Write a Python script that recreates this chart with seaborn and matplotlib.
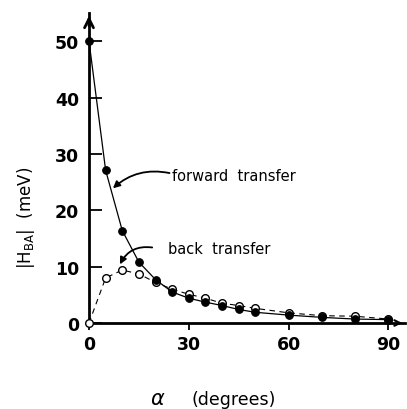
import matplotlib
matplotlib.use("Agg")
import matplotlib.pyplot as plt
import seaborn as sns
import pandas as pd

# Coupling matrix element vs. rotation angle
angle = [0, 5, 10, 15, 20, 25, 30, 35, 40, 45, 50, 60, 70, 80, 90]
forward = [50.0, 27.1, 16.4, 10.8, 7.7, 5.5, 4.4, 3.7, 3.1, 2.4, 1.9, 1.4, 1.0, 0.7, 0.6]
back = [0.0, 8.0, 9.4, 8.7, 7.2, 6.0, 5.1, 4.4, 3.5, 3.1, 2.6, 1.8, 1.3, 1.2, 0.7]

df = pd.DataFrame({"angle": angle, "forward": forward, "back": back})

sns.set_theme(style="white")
plt.rcParams["font.family"] = ["DejaVu Sans"]
plt.rcParams["mathtext.fontset"] = "dejavusans"
plt.rcParams["text.color"] = "black"
plt.rcParams["xtick.color"] = "black"
plt.rcParams["ytick.color"] = "black"

fig = plt.figure(figsize=(4.07, 4.10), dpi=100)
ax = fig.add_axes([89 / 407, 86 / 410, 316 / 407, 310 / 410])

sns.lineplot(data=df, x="angle", y="back", ax=ax, color="black", lw=0.8,
             linestyle=(0, (5, 4)), marker="o", markersize=5.5,
             markerfacecolor="white", markeredgecolor="black",
             markeredgewidth=1.0, clip_on=False, zorder=3)
sns.lineplot(data=df, x="angle", y="forward", ax=ax, color="black", lw=0.9,
             marker="o", markersize=5.5, markerfacecolor="black",
             markeredgecolor="black", clip_on=False, zorder=4)

ax.set_xlim(0, 95)
ax.set_ylim(0, 55)
ax.set_xticks([0, 30, 60, 90])
ax.set_yticks([0, 10, 20, 30, 40, 50])
ax.tick_params(axis="y", direction="in", length=9, width=1.3, pad=7,
               labelsize=12.5, left=True, colors="black")
ax.tick_params(axis="x", direction="out", length=5, width=1.3, pad=4,
               labelsize=12.5, bottom=True, colors="black")
for lab in ax.get_xticklabels() + ax.get_yticklabels():
    lab.set_fontweight("bold")

for side in ("top", "right"):
    ax.spines[side].set_visible(False)
for side in ("left", "bottom"):
    ax.spines[side].set_linewidth(2.0)
    ax.spines[side].set_color("black")

# arrowheads at the ends of the axes
ax.annotate("", xy=(0, 1.0), xytext=(0, 0.95), xycoords="axes fraction",
            arrowprops=dict(arrowstyle="->", lw=2.0, color="black",
                            mutation_scale=16))
ax.annotate("", xy=(1.0, 0), xytext=(0.97, 0), xycoords="axes fraction",
            arrowprops=dict(arrowstyle="->", lw=1.5, color="black",
                            mutation_scale=10))

ax.set_xlabel("")
ax.set_ylabel("")

# curve labels with pointers
ax.text(24.9, 26.2, "forward  transfer", fontsize=10.5, va="center", ha="left")
ax.annotate("", xy=(7.2, 23.9), xytext=(24.2, 26.6),
            arrowprops=dict(arrowstyle="-|>", lw=1.3, color="black",
                            connectionstyle="arc3,rad=0.25", mutation_scale=10,
                            shrinkA=0, shrinkB=0))
ax.text(23.7, 13.3, "back  transfer", fontsize=10.5, va="center", ha="left")
ax.annotate("", xy=(9.3, 10.4), xytext=(19.0, 13.4),
            arrowprops=dict(arrowstyle="-|>", lw=1.3, color="black",
                            connectionstyle="arc3,rad=0.35", mutation_scale=10,
                            shrinkA=0, shrinkB=0))

fig.text(26 / 407, 1 - 218 / 410, r"$|\mathrm{H}_{\mathrm{BA}}|$  (meV)",
         rotation=90, ha="center", va="center", fontsize=12)
fig.text(158 / 407, 1 - 399 / 410, r"$\alpha$", ha="center", va="center",
         fontsize=15)
fig.text(234 / 407, 1 - 400 / 410, "(degrees)", ha="center", va="center",
         fontsize=12.5)

fig.savefig("out.png", dpi=100)
